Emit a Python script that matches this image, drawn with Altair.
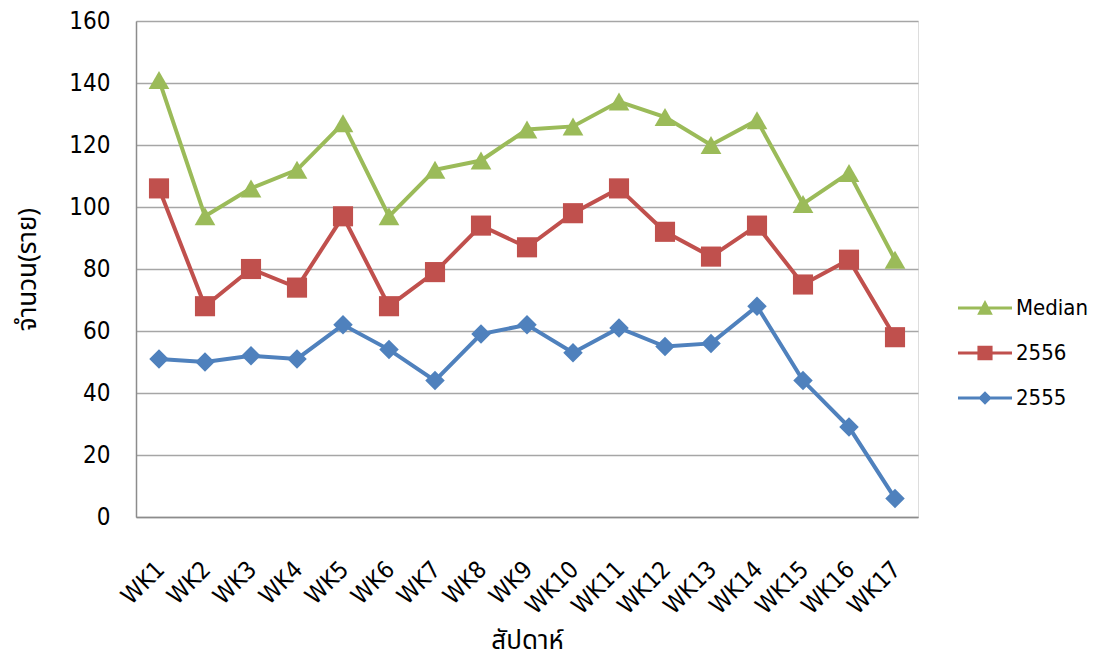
import altair as alt
import pandas as pd

weeks = ["WK1", "WK2", "WK3", "WK4", "WK5", "WK6", "WK7", "WK8", "WK9",
         "WK10", "WK11", "WK12", "WK13", "WK14", "WK15", "WK16", "WK17"]
series_names = ["Median", "2556", "2555"]
median_vals = [141, 97, 106, 112, 127, 97, 112, 115, 125, 126, 134, 129, 120, 128, 101, 111, 83]
y2556_vals = [106, 68, 80, 74, 97, 68, 79, 94, 87, 98, 106, 92, 84, 94, 75, 83, 58]
y2555_vals = [51, 50, 52, 51, 62, 54, 44, 59, 62, 53, 61, 55, 56, 68, 44, 29, 6]
y_ticks = [0, 20, 40, 60, 80, 100, 120, 140, 160]

series_colors = ["#9BBB59", "#C0504D", "#4F81BD"]
marker_shapes = ["triangle-up", "square", "diamond"]
marker_sizes = [430, 380, 400]
# legend symbols: a short line with the marker in the middle
legend_shapes = [
    "M-1,-0.055H1V0.055H-1Z M0,-0.3L0.29,0.25L-0.29,0.25Z",
    "M-1,-0.055H1V0.055H-1Z M-0.28,-0.27H0.28V0.27H-0.28Z",
    "M-1,-0.055H1V0.055H-1Z M0,-0.25L0.25,0L0,0.25L-0.25,0Z",
]

rows = []
for name, vals in zip(series_names, [median_vals, y2556_vals, y2555_vals]):
    for w, v in zip(weeks, vals):
        rows.append({"week": w, "series": name, "value": v})
df = pd.DataFrame(rows)

FONT = "DejaVu Sans Condensed, DejaVu Sans, sans-serif"
THAI_FONT = "Noto Sans Thai, Tahoma, DejaVu Sans, sans-serif"

x_enc = alt.X(
    "week:N", sort=weeks,
    scale=alt.Scale(type="point", padding=0.5),
    axis=alt.Axis(
        title="สัปดาห์", labelAngle=-45, labelFont=FONT, labelFontSize=24,
        labelColor="#000000", ticks=False, labelPadding=40, labelOffset=-7,
        domainColor="#8c8c8c", domainWidth=1.5, grid=False,
        titleFont=THAI_FONT, titleFontSize=26, titleFontWeight="normal",
        titleColor="#000000", titleBaseline="bottom", titleY=136,
    ),
)
y_enc = alt.Y(
    "value:Q",
    scale=alt.Scale(domain=[0, 160], nice=False, zero=True),
    axis=alt.Axis(
        values=y_ticks, title="จำนวน(ราย)", labelFont=FONT, labelFontSize=24,
        labelColor="#000000", ticks=False, labelPadding=26,
        domainColor="#8c8c8c", domainWidth=1.5,
        gridColor="#a6a6a6", gridWidth=1.5,
        titleFont=THAI_FONT, titleFontSize=26, titleFontWeight="normal",
        titleColor="#000000", titlePadding=28,
    ),
)

color_scale = alt.Scale(domain=series_names, range=series_colors)
base = alt.Chart(df)

lines = base.mark_line(strokeWidth=4).encode(
    x=x_enc, y=y_enc,
    color=alt.Color("series:N", scale=color_scale, legend=None),
)
points = base.mark_point(filled=True, opacity=1).encode(
    x=x_enc, y=y_enc,
    color=alt.Color("series:N", scale=color_scale, legend=None),
    shape=alt.Shape("series:N", scale=alt.Scale(domain=series_names, range=marker_shapes), legend=None),
    size=alt.Size("series:N", scale=alt.Scale(domain=series_names, range=marker_sizes), legend=None),
)
legend_props = dict(
    title=None, orient="none", legendX=822, legendY=260,
    symbolSize=2916, symbolStrokeWidth=0, labelFont=FONT, labelFontSize=22,
    labelColor="#000000", labelOffset=4, rowPadding=7,
)
legend_layer = base.transform_filter("false").mark_point(filled=True, opacity=1).encode(
    x=x_enc, y=y_enc,
    color=alt.Color("series:N", scale=color_scale, legend=alt.Legend(**legend_props)),
    shape=alt.Shape("series:N", scale=alt.Scale(domain=series_names, range=legend_shapes),
                    legend=alt.Legend(**legend_props)),
)

chart = alt.layer(lines, points, legend_layer).resolve_scale(
    color="independent", shape="independent", size="independent"
).properties(
    width=782, height=496,
    autosize=alt.AutoSizeParams(type="none"),
    padding={"left": 128, "top": 13, "right": 175, "bottom": 143},
).configure_view(stroke=None).configure(background="#ffffff")

chart.save("out.html", embed_options={"renderer": "svg", "actions": False})
